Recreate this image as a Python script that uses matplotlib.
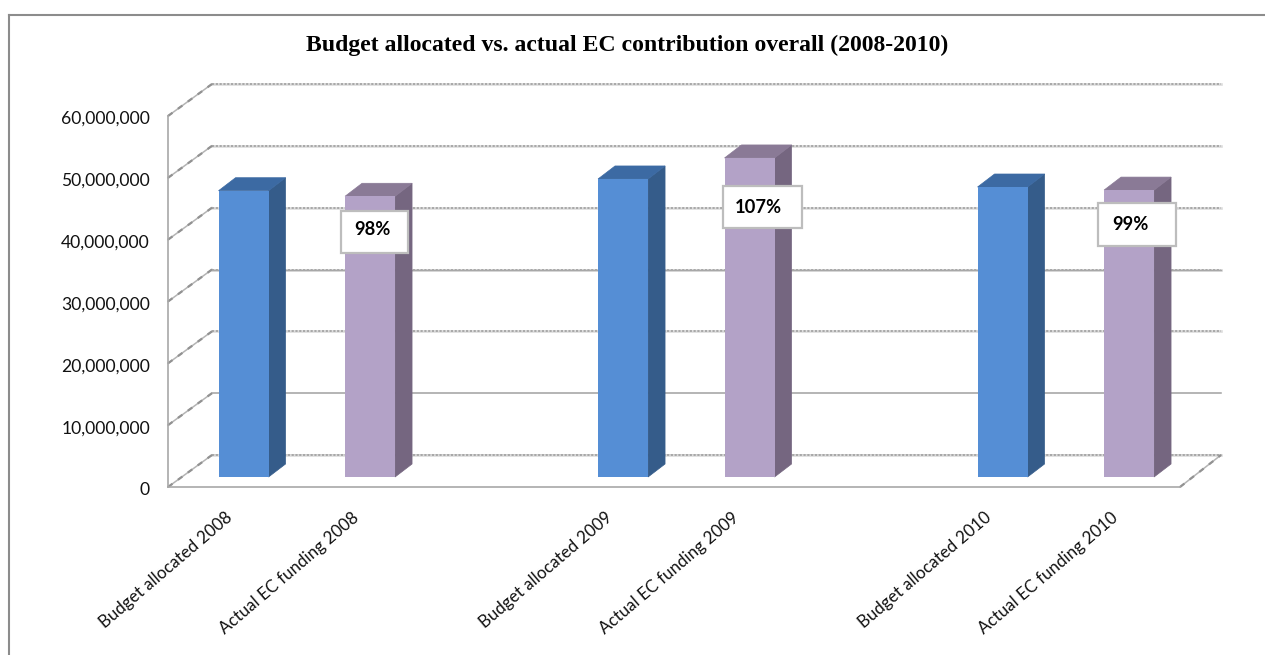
import matplotlib
matplotlib.use("Agg")
import matplotlib.pyplot as plt
from matplotlib.lines import Line2D
from matplotlib.patches import Polygon, Rectangle
from matplotlib.ticker import FuncFormatter
from matplotlib.transforms import ScaledTranslation

categories = ["Budget allocated 2008", "Actual EC funding 2008",
              "Budget allocated 2009", "Actual EC funding 2009",
              "Budget allocated 2010", "Actual EC funding 2010"]
positions = [0, 1, 3, 4, 6, 7]
values = [46300000, 45400000, 48200000, 51600000, 46900000, 46400000]
y_ticks = [0, 10000000, 20000000, 30000000, 40000000, 50000000, 60000000]

W, H = 1265, 655
AX_L, AX_R, AX_T, AX_B = 168, 1180, 116, 487
SOLID_LEVELS = (10000000, 0)

fig = plt.figure(figsize=(W / 100, H / 100), dpi=100, facecolor="white")
ax = fig.add_axes([AX_L / W, (H - AX_B) / H, (AX_R - AX_L) / W, (AX_B - AX_T) / H])
ax.set_xlim(-0.5, 7.5)
ax.set_ylim(0, 60000000)

# Pixel sizes expressed in data units, used for the pseudo-3D depth.
px_x = 8 / (AX_R - AX_L)
px_y = 60000000 / (AX_B - AX_T)
back_dx, back_dy = 44 * px_x, 32 * px_y
right_dx = 41 * px_x
x0, x1 = -0.5, 7.5

# Back wall gridlines: a pale band with a fine grey stipple, plain for the solid levels.
for v in y_ticks:
    xs = [x0 + back_dx, x1 + right_dx]
    ys = [v + back_dy, v + back_dy]
    if v in SOLID_LEVELS:
        ax.plot(xs, ys, color="#a0a0a0", lw=1.1, zorder=1, clip_on=False)
    if v != 10000000:
        ax.plot(xs, ys, color="#dcdcdc", lw=1.9, zorder=1, clip_on=False)
        ax.plot(xs, ys, color="#a4a4a4", lw=1.3, dashes=(1.2, 0.9), zorder=1.1, clip_on=False)
    if v == 30000000:
        ax.plot(xs, ys, color="#a8a8a8", lw=1.0, zorder=1.2, clip_on=False)

# Side wall edges running back from the value axis, plus the floor's right edge.
for xs, ys in [([x0, x0 + back_dx], [v, v + back_dy]) for v in y_ticks] + [([x1, x1 + right_dx], [0, back_dy])]:
    ax.plot(xs, ys, color="#b4b4b4", lw=1.1, zorder=1, clip_on=False)
    ax.plot(xs, ys, color="#929292", lw=1.6, dashes=(2.5, 3), zorder=1.1, clip_on=False)

# Columns: front face from the bar call, side and top as depth polygons.
palette = [("#558ed5", "#355c8a", "#3c6aa3"), ("#b3a2c7", "#756680", "#8a7a96")]
bar_width = 50 * px_x
shift_x, shift_y = 12.3 * px_x, 10 * px_y
depth_x, depth_y = 17 * px_x, 13 * px_y
for i, (p, v) in enumerate(zip(positions, values)):
    front, side, top = palette[i % 2]
    left = p + shift_x - bar_width / 2
    right = left + bar_width
    base, peak = shift_y, v + shift_y
    ax.bar(left, v, width=bar_width, bottom=base, align="edge", color=front,
           edgecolor="none", zorder=3)
    ax.add_patch(Polygon([(right, base), (right + depth_x, base + depth_y),
                          (right + depth_x, peak + depth_y), (right, peak)],
                         facecolor=side, edgecolor=side, lw=0.5, zorder=2.5))
    ax.add_patch(Polygon([(left, peak), (left + depth_x, peak + depth_y),
                          (right + depth_x, peak + depth_y), (right, peak)],
                         facecolor=top, edgecolor=top, lw=0.5, zorder=2.5))

# Axes, ticks and labels.
for s in ("top", "right"):
    ax.spines[s].set_visible(False)
for s in ("left", "bottom"):
    ax.spines[s].set_color("#a8a8a8")
    ax.spines[s].set_linewidth(1.2)
ax.patch.set_visible(False)
ax.set_yticks(y_ticks)
ax.yaxis.set_major_formatter(FuncFormatter(lambda v, _: f"{int(v):,}"))
ax.tick_params(axis="y", length=0, pad=13, labelsize=12.6, labelcolor="#111111")
ax.set_xticks(positions)
ax.set_xticklabels(categories, rotation=40.5, ha="right", va="top",
                   rotation_mode="anchor", fontsize=12.2, color="#111111")
ax.tick_params(axis="x", length=0, pad=16)
for lab in ax.get_yticklabels():
    lab.set_family("Lato")
    lab.set_transform(lab.get_transform() + ScaledTranslation(0, -1.5 / 100, fig.dpi_scale_trans))
for lab in ax.get_xticklabels():
    lab.set_family("Lato")
    lab.set_transform(lab.get_transform() + ScaledTranslation(-6 / 100, 0, fig.dpi_scale_trans))

# Ratio call-outs over the actual-funding columns.
callout_boxes = [(341, 211, 67, 42, 372, 230), (723, 186, 79, 42, 758, 208), (1098, 203, 78, 43, 1130, 225)]
ratios = [values[i + 1] / values[i] for i in (0, 2, 4)]
for (bx, by, bw, bh, tx, ty), r in zip(callout_boxes, ratios):
    fig.add_artist(Rectangle((bx / W, 1 - (by + bh) / H), bw / W, bh / H, transform=fig.transFigure,
                             facecolor="white", edgecolor="#bdbdbd", lw=1.6, zorder=5))
    fig.text(tx / W, 1 - ty / H, f"{r:.0%}", ha="center", va="center", family="Lato",
             weight="bold", fontsize=13.2, color="black", zorder=6)

fig.text(627.5 / W, 1 - 45 / H, "Budget allocated vs. actual EC contribution overall (2008-2010)",
         ha="center", va="center", family="Liberation Serif", weight="bold", fontsize=17.1, color="black")

# Chart frame: only the top and left edges fall inside the canvas.
for xs, ys in (([9, 9], [15, H]), ([9, W], [15, 15])):
    fig.add_artist(Line2D([x / W for x in xs], [1 - y / H for y in ys], color="#8c8c8c",
                          lw=1.5, transform=fig.transFigure))

fig.savefig("out.png", dpi=100)
